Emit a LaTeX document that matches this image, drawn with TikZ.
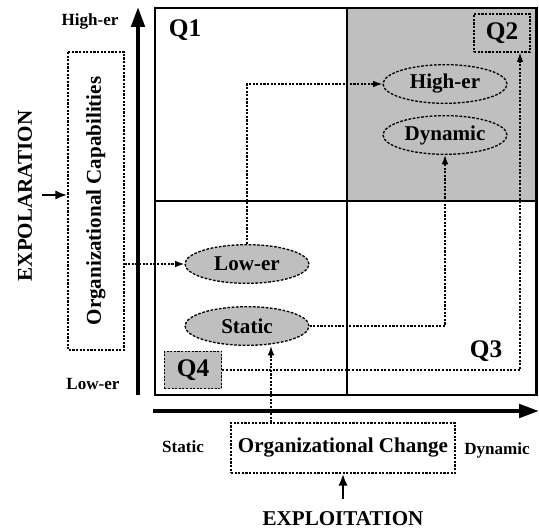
\documentclass[tikz,border=0pt]{standalone}
\usepackage{fontspec}
\setmainfont{Liberation Serif}
\usetikzlibrary{arrows.meta,shapes.geometric}

\begin{document}
\begin{tikzpicture}[x=0.75pt,y=-0.75pt,
    font=\bfseries\fontsize{15.8}{18}\selectfont,
    conn/.style={-{Latex[length=7pt,width=5pt]},line width=1pt,dash pattern=on 1.6pt off 1.1pt},
    oval/.style={ellipse,draw,line width=1pt,dash pattern=on 2pt off 1.2pt,minimum width=93pt,minimum height=29pt,inner sep=0pt},
    dbox/.style={draw,line width=1pt,dash pattern=on 1.6pt off 1.1pt,inner sep=0pt},
    axis/.style={-{Triangle[length=15pt,width=10pt]},line width=3pt},
    small/.style={font=\bfseries\fontsize{12.8}{15}\selectfont},
    qlab/.style={font=\bfseries\fontsize{19}{22}\selectfont}]
    \useasboundingbox (0,0) rectangle (539,531);
    % quadrants
    \fill[black!25] (347,8) rectangle (536.5,201);
    \draw[line width=1.6pt] (155,8) rectangle (536.5,395);
    \draw[line width=1.6pt] (347,8) -- (347,395);
    \draw[line width=1.6pt] (155,201) -- (536.5,201);
    % axes
    \coordinate (y0) at (138,395);
    \coordinate (y1) at (138,7);
    \coordinate (x0) at (153,411);
    \coordinate (x1) at (539,411);
    \draw[axis] (y0) -- (y1);
    \draw[axis] (x0) -- (x1);
    \node[small] (hi) at (90,21) {High-er};
    \node[small] (lo) at (93,384) {Low-er};
    \node[small] (st) at (183,447) {Static};
    \node[small] (dy) at (497,450) {Dynamic};
    \node[rotate=90] (xpl) at (25,196) {EXPOLARATION};
    \node (xpt) at (343,519) {EXPLOITATION};
    \node[dbox,rotate=90,minimum width=223.5pt,minimum height=42pt] (cap) at (96,201) {Organizational Capabilities};
    \node[dbox,minimum width=168pt,minimum height=37.5pt] (chg) at (343,448) {Organizational Change};
    % ovals
    \node[oval,fill=black!25] (Lo) at (247,264) {Low-er};
    \node[oval,fill=black!25] (St) at (247,326) {Static};
    \node[oval] (Hi) at (445,84) {High-er};
    \node[oval] (Dyn) at (445,135) {Dynamic};
    % quadrant labels
    \node[qlab] (q1) at (185,30) {Q1};
    \node[qlab] (q3) at (486,351) {Q3};
    \node[qlab,dbox,minimum width=42pt,minimum height=28.5pt] (q2) at (502,33) {Q2};
    \node[qlab,dbox,fill=black!25,minimum width=43pt,minimum height=28pt] (q4) at (193,370) {Q4};
    % links
    \coordinate (c1) at (271,0);
    \coordinate (c2) at (520,0);
    \coordinate (e1) at (42,195);
    \coordinate (e2) at (343,499);
    \draw[conn] (Lo.west -| cap.south) -- (Lo.west);
    \draw[conn] (Lo.north) |- (Hi.west);
    \draw[conn] (chg.north -| c1) -- (St.south -| c1);
    \draw[conn] (St.east) -| (Dyn.south);
    \draw[conn] (q4.east) -| (q2.south -| c2);
    \draw[-{Latex[length=9pt,width=7pt]},line width=2pt] (e1) -- (e1 -| cap.north);
    \draw[-{Latex[length=9pt,width=7pt]},line width=2pt] (e2) -- (chg.south);
\end{tikzpicture}
\end{document}
